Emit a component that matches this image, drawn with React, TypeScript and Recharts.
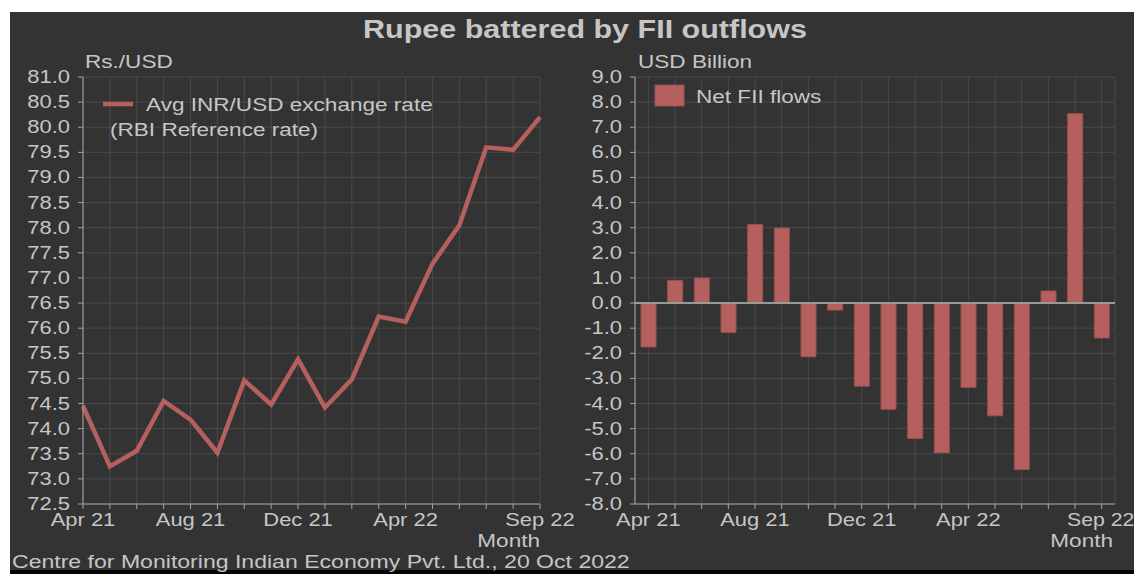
import React from "react";
import {
  LineChart,
  Line,
  BarChart,
  Bar,
  XAxis,
  YAxis,
  CartesianGrid,
  ReferenceLine,
} from "recharts";

const months = [
  "Apr 21", "May 21", "Jun 21", "Jul 21", "Aug 21", "Sep 21",
  "Oct 21", "Nov 21", "Dec 21", "Jan 22", "Feb 22", "Mar 22",
  "Apr 22", "May 22", "Jun 22", "Jul 22", "Aug 22", "Sep 22",
];
const inrUsdRate = [
  74.45, 73.25, 73.56, 74.55, 74.18, 73.52, 74.96, 74.48, 75.38,
  74.42, 74.98, 76.23, 76.13, 77.28, 78.05, 79.6, 79.55, 80.2,
];
const netFiiFlows = [
  -1.75, 0.9, 1.0, -1.17, 3.13, 2.99, -2.14, -0.28, -3.31,
  -4.23, -5.39, -5.96, -3.36, -4.49, -6.63, 0.48, 7.54, -1.39,
];
const xTickLabels = ["Apr 21", "Aug 21", "Dec 21", "Apr 22", "Sep 22"];
const rateTicks = [
  72.5, 73.0, 73.5, 74.0, 74.5, 75.0, 75.5, 76.0, 76.5,
  77.0, 77.5, 78.0, 78.5, 79.0, 79.5, 80.0, 80.5, 81.0,
];
const flowTicks = [-8, -7, -6, -5, -4, -3, -2, -1, 0, 1, 2, 3, 4, 5, 6, 7, 8, 9];

const rateData = months.map((m, i) => ({ month: m, rate: inrUsdRate[i] }));
const flowData = months.map((m, i) => ({ month: m, flow: netFiiFlows[i] }));

const SX = 1.22;
const FONT = '"Liberation Sans", Arial, Helvetica, sans-serif';
const TEXT = "#c6c6c6";
const BG = "#333333";
const GRID = "#4a4a4a";
const AXIS = "#a4a4a4";
const RED = "#b55f5f";

const XTick = (props: any) => {
  const { x, y, payload, lastShift = 0 } = props;
  if (!xTickLabels.includes(payload.value)) return <g />;
  const isLast = payload.value === months[months.length - 1];
  const sx = isLast && lastShift ? 1.18 : SX;
  return (
    <g transform={`translate(${x + (isLast ? lastShift : 0)},${y})`}>
      <text
        transform={`scale(${sx},1)`}
        textAnchor="middle"
        y={17}
        fill={TEXT}
        fontSize={18}
        fontFamily={FONT}
      >
        {payload.value}
      </text>
    </g>
  );
};

const YTick = (props: any) => {
  const { x, y, payload } = props;
  return (
    <g transform={`translate(${x - 8},${y})`}>
      <text
        transform={`scale(${SX},1)`}
        textAnchor="end"
        y={6}
        fill={TEXT}
        fontSize={18}
        fontFamily={FONT}
      >
        {Number(payload.value).toFixed(1)}
      </text>
    </g>
  );
};

const T = ({ x, y, size = 18.5, bold = false, anchor = "start", children }: any) => (
  <text
    transform={`translate(${x},${y}) scale(${SX},1)`}
    textAnchor={anchor}
    fill={TEXT}
    fontSize={size}
    fontWeight={bold ? "bold" : "normal"}
    fontFamily={FONT}
  >
    {children}
  </text>
);

export default function App() {
  return (
    <div
      style={{
        position: "absolute",
        left: 0,
        top: 0,
        width: 1134,
        height: 574,
        background: "#ffffff",
        overflow: "hidden",
      }}
    >
      <div
        style={{
          position: "absolute",
          left: 10,
          top: 12,
          width: 1124,
          height: 558,
          background: BG,
        }}
      />
      <div
        style={{
          position: "absolute",
          left: 10,
          top: 570,
          width: 1124,
          height: 4,
          background: "#050505",
        }}
      />
      <div style={{ position: "absolute", left: 0, top: 0 }}>
        <LineChart
          width={600}
          height={574}
          data={rateData}
          margin={{ top: 77, right: 60, bottom: 40, left: 0 }}
        >
          <CartesianGrid stroke={GRID} strokeWidth={1} />
          <XAxis
            dataKey="month"
            interval={0}
            height={30}
            tickSize={5}
            tickMargin={0}
            stroke={AXIS}
            tickLine={{ stroke: AXIS }}
            tick={<XTick />}
          />
          <YAxis
            width={83}
            domain={[72.5, 81]}
            ticks={rateTicks}
            interval={0}
            tickSize={5}
            tickMargin={0}
            stroke={AXIS}
            tickLine={{ stroke: AXIS }}
            tick={<YTick />}
          />
          <Line
            type="linear"
            dataKey="rate"
            stroke={RED}
            strokeWidth={4.5}
            dot={false}
            isAnimationActive={false}
          />
        </LineChart>
      </div>
      <div style={{ position: "absolute", left: 560, top: 0 }}>
        <BarChart
          width={574}
          height={574}
          data={flowData}
          margin={{ top: 77, right: 19, bottom: 40, left: 0 }}
          barSize={15}
        >
          <CartesianGrid stroke={GRID} strokeWidth={1} />
          <XAxis
            dataKey="month"
            interval={0}
            height={30}
            tickSize={5}
            tickMargin={0}
            stroke={AXIS}
            tickLine={{ stroke: AXIS }}
            tick={<XTick lastShift={-1} />}
          />
          <YAxis
            width={75}
            domain={[-8, 9]}
            ticks={flowTicks}
            interval={0}
            tickSize={5}
            tickMargin={0}
            stroke={AXIS}
            tickLine={{ stroke: AXIS }}
            tick={<YTick />}
          />
          <ReferenceLine y={0} stroke="#9a9a9a" strokeWidth={2} />
          <Bar
            dataKey="flow"
            fill={RED}
            stroke="#9c5050"
            strokeWidth={1}
            isAnimationActive={false}
          />
        </BarChart>
      </div>
      <svg
        width={1134}
        height={574}
        style={{ position: "absolute", left: 0, top: 0, pointerEvents: "none" }}
      >
        <T x={585} y={38} size={25} bold anchor="middle">
          Rupee battered by FII outflows
        </T>
        <T x={85} y={68}>Rs./USD</T>
        <T x={638} y={68}>USD Billion</T>
        <line x1={103} y1={104} x2={133} y2={104} stroke={RED} strokeWidth={4.5} />
        <T x={146} y={111}>Avg INR/USD exchange rate</T>
        <T x={110} y={136}>(RBI Reference rate)</T>
        <rect x={655} y={85} width={29} height={21} fill={RED} stroke="#9c5050" />
        <T x={696} y={103}>Net FII flows</T>
        <T x={540} y={547} anchor="end">Month</T>
        <T x={1113} y={547} anchor="end">Month</T>
        <T x={12} y={568} size={18.9}>
          Centre for Monitoring Indian Economy Pvt. Ltd., 20 Oct 2022
        </T>
      </svg>
    </div>
  );
}
